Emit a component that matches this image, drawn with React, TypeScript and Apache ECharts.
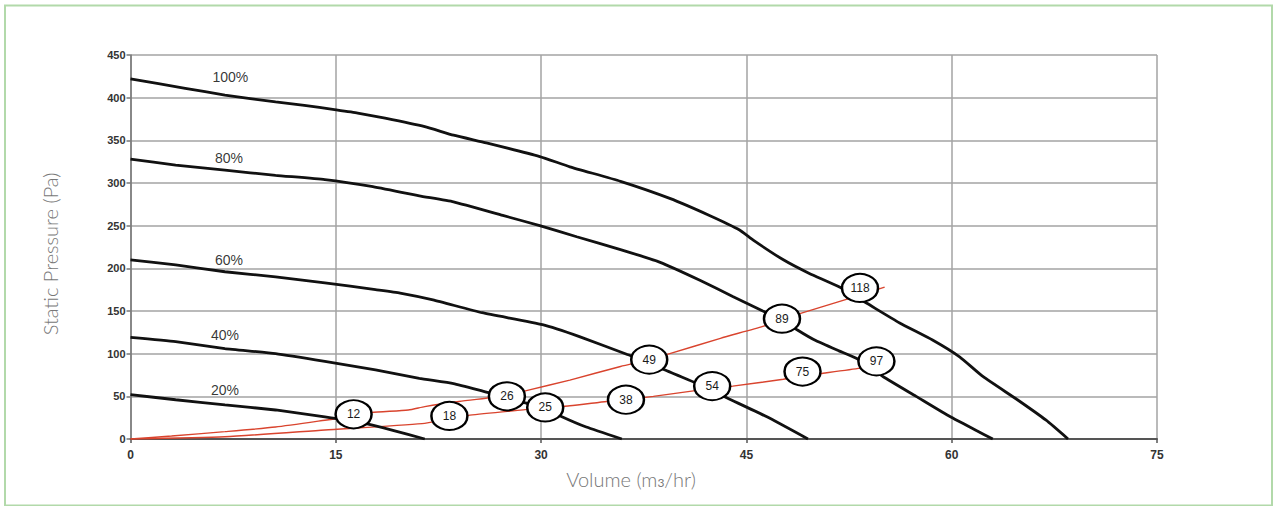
import React, { useEffect, useRef } from "react";
import * as echarts from "echarts";

// ---- axis ticks ----
const xTicks = [0, 15, 30, 45, 60, 75];
const yTicks = [0, 50, 100, 150, 200, 250, 300, 350, 400, 450];

// ---- fan curves: [volume m3/hr, static pressure Pa] ----
const speedNames = ["100%", "80%", "60%", "40%", "20%"];
const curve100 = [
  [0, 422], [4, 411], [6.9, 403], [10.6, 395], [12.7, 391], [14.9, 386], [16.6, 382],
  [18.6, 376], [21.5, 366], [23.6, 356], [26, 347], [29.9, 331], [32.1, 319], [35.8, 302],
  [39.4, 282], [42.3, 262], [44.5, 245], [45.5, 233], [47.7, 210], [49.6, 194], [51.8, 178],
  [53.8, 159], [56.2, 136], [58.6, 116], [60.6, 96], [62.3, 73], [64.8, 46], [66.9, 22], [68.5, 0],
];
const curve80 = [
  [0, 328], [3.3, 321], [6.9, 315], [10.6, 309], [14.2, 304], [17.6, 296], [21.1, 285],
  [23.6, 278], [27.2, 262], [29.9, 250], [32.6, 237], [35.8, 222], [38.7, 207], [41.6, 186],
  [44, 167], [46.2, 150], [47.6, 140], [48.7, 128], [50.1, 115], [51.8, 103], [53.1, 94],
  [55, 73], [57.4, 50], [59.9, 26], [61.8, 10], [63, 0],
];
const curve60 = [
  [0, 210], [3.3, 204], [6.9, 196], [10.6, 190], [14.2, 183], [17.9, 175], [19.7, 171],
  [22.1, 163], [25.7, 148], [30.1, 134], [32.8, 120], [36.3, 99], [37.9, 91], [38.9, 82],
  [41.4, 65], [43.6, 48], [46.5, 26], [49.5, 0],
];
const curve40 = [
  [0, 119], [3.3, 114], [6.9, 106], [10.6, 100], [14.2, 91], [17.9, 81], [21.1, 71],
  [23.6, 65], [26, 55], [27.5, 49], [28.7, 43], [30.3, 36], [31.4, 27], [33.3, 14], [35.9, 0],
];
const curve20 = [
  [0, 52], [3.3, 46], [6.9, 40], [10.6, 34], [14.2, 26], [16.6, 20], [19.1, 10.5], [21.5, 0],
];
const speedCurves = [curve100, curve80, curve60, curve40, curve20];
const speedLabelPos = [[7.3, 424], [7.2, 329], [7.2, 210], [6.9, 122], [6.9, 57]];

// ---- system resistance curves (red) ----
const systemUpper = [
  [0, 0], [3, 3.5], [6.9, 8.6], [10.6, 14], [14.2, 22], [16.3, 27], [17.6, 31], [20.3, 34],
  [21.5, 38], [24, 44], [27.5, 51], [29, 57], [32.1, 69], [35.8, 85], [37.9, 93],
  [39.4, 100], [43.1, 118], [46.2, 132], [47.6, 140], [48.9, 147], [52.6, 165], [55.1, 178],
];
const systemLower = [
  [0, 0], [6.9, 2.7], [14.2, 10.5], [21.3, 18], [23.3, 24], [24.8, 28], [29.2, 35],
  [30.3, 37], [32.1, 39], [34.8, 44], [36.2, 46], [38.2, 50], [41.4, 57], [42.5, 60],
  [44, 62], [47.7, 70], [49.1, 74], [50.6, 77], [53.3, 83], [54.5, 88],
];

// ---- power labels (W) in ellipses ----
const powerLabels = ["12", "18", "26", "25", "38", "49", "54", "89", "75", "97", "118"];
const powerPos = [
  [16.3, 29], [23.3, 27], [27.5, 50], [30.3, 37], [36.2, 46], [37.9, 93],
  [42.5, 62], [47.6, 141], [49.1, 79], [54.5, 91], [53.3, 177],
];

const FONT = "'Liberation Sans', Arial, sans-serif";
const NAME_FONT = "Lato, 'Noto Sans', sans-serif";

export default function App() {
  const ref = useRef<HTMLDivElement>(null);

  useEffect(() => {
    if (!ref.current) return;
    const chart = echarts.init(ref.current, null, { renderer: "svg" });

    const curveSeries = speedCurves.map((c, i) => ({
      type: "line",
      name: speedNames[i],
      data: c,
      showSymbol: false,
      smooth: 0.15,
      lineStyle: { color: "#111", width: 2.8 },
      z: 3,
    }));

    const option = {
      animation: false,
      backgroundColor: "#fff",
      grid: { left: 130.5, top: 55, width: 1026.5, height: 384, containLabel: false },
      xAxis: {
        type: "value",
        min: xTicks[0],
        max: xTicks[xTicks.length - 1],
        interval: xTicks[1] - xTicks[0],
        axisLine: { show: true, lineStyle: { color: "#555", width: 2 } },
        axisTick: { show: true, length: 4, lineStyle: { color: "#555", width: 1.5 } },
        axisLabel: { margin: 10, fontSize: 12, fontWeight: "bold", color: "#333", fontFamily: FONT },
        splitLine: { show: true, lineStyle: { color: "#a3a3a3", width: 1.5 } },
      },
      yAxis: {
        type: "value",
        min: yTicks[0],
        max: yTicks[yTicks.length - 1],
        interval: yTicks[1] - yTicks[0],
        axisLine: { show: true, lineStyle: { color: "#777", width: 1.5 } },
        axisTick: { show: true, length: 4, lineStyle: { color: "#777", width: 1.5 } },
        axisLabel: { margin: 5, fontSize: 11, fontWeight: "bold", color: "#333", fontFamily: FONT },
        splitLine: { show: true, lineStyle: { color: "#a3a3a3", width: 1.5 } },
      },
      graphic: [
        {
          type: "rect",
          shape: { x: 5, y: 5.5, width: 1267, height: 500 },
          style: { fill: "none", stroke: "#b2d9aa", lineWidth: 2 },
          silent: true,
        },
        {
          type: "text",
          x: 50,
          y: 254,
          rotation: Math.PI / 2,
          style: {
            text: "Static Pressure (Pa)",
            fontSize: 20,
            fontWeight: 300,
            fontFamily: NAME_FONT,
            fill: "#777",
            align: "center",
            verticalAlign: "middle",
          },
        },
        {
          type: "text",
          x: 631,
          y: 479,
          style: {
            text: "Volume (m{s|3}/hr)",
            fontSize: 20,
            fontWeight: 300,
            fontFamily: NAME_FONT,
            fill: "#777",
            align: "center",
            verticalAlign: "middle",
            rich: { s: { fontSize: 12, fontFamily: NAME_FONT, fill: "#777", padding: [6, 0, 0, 0] } },
          },
        },
      ],
      series: [
        ...curveSeries,
        {
          type: "line",
          data: systemUpper,
          showSymbol: false,
          smooth: 0.2,
          lineStyle: { color: "#d9442e", width: 1.4 },
          z: 2,
        },
        {
          type: "line",
          data: systemLower,
          showSymbol: false,
          smooth: 0.2,
          lineStyle: { color: "#d9442e", width: 1.4 },
          z: 2,
        },
        {
          type: "scatter",
          data: speedLabelPos.map((p, i) => ({ value: p, name: speedNames[i] })),
          symbolSize: 1,
          itemStyle: { color: "rgba(0,0,0,0)" },
          label: {
            show: true,
            position: "inside",
            formatter: "{b}",
            fontSize: 14,
            color: "#000",
            fontFamily: FONT,
          },
          z: 4,
        },
        {
          type: "scatter",
          data: powerPos.map((p, i) => ({ value: p, name: powerLabels[i] })),
          symbol: "circle",
          symbolSize: [36, 28],
          itemStyle: { color: "#fff", borderColor: "#000", borderWidth: 2.2, opacity: 1 },
          label: {
            show: true,
            position: "inside",
            formatter: "{b}",
            fontSize: 12,
            color: "#1a1a1a",
            fontFamily: FONT,
          },
          z: 5,
        },
      ],
    };

    chart.setOption(option as any);
    return () => chart.dispose();
  }, []);

  return (
    <div
      ref={ref}
      style={{ position: "absolute", left: 0, top: 0, width: 1273, height: 506, background: "#fff" }}
    />
  );
}
